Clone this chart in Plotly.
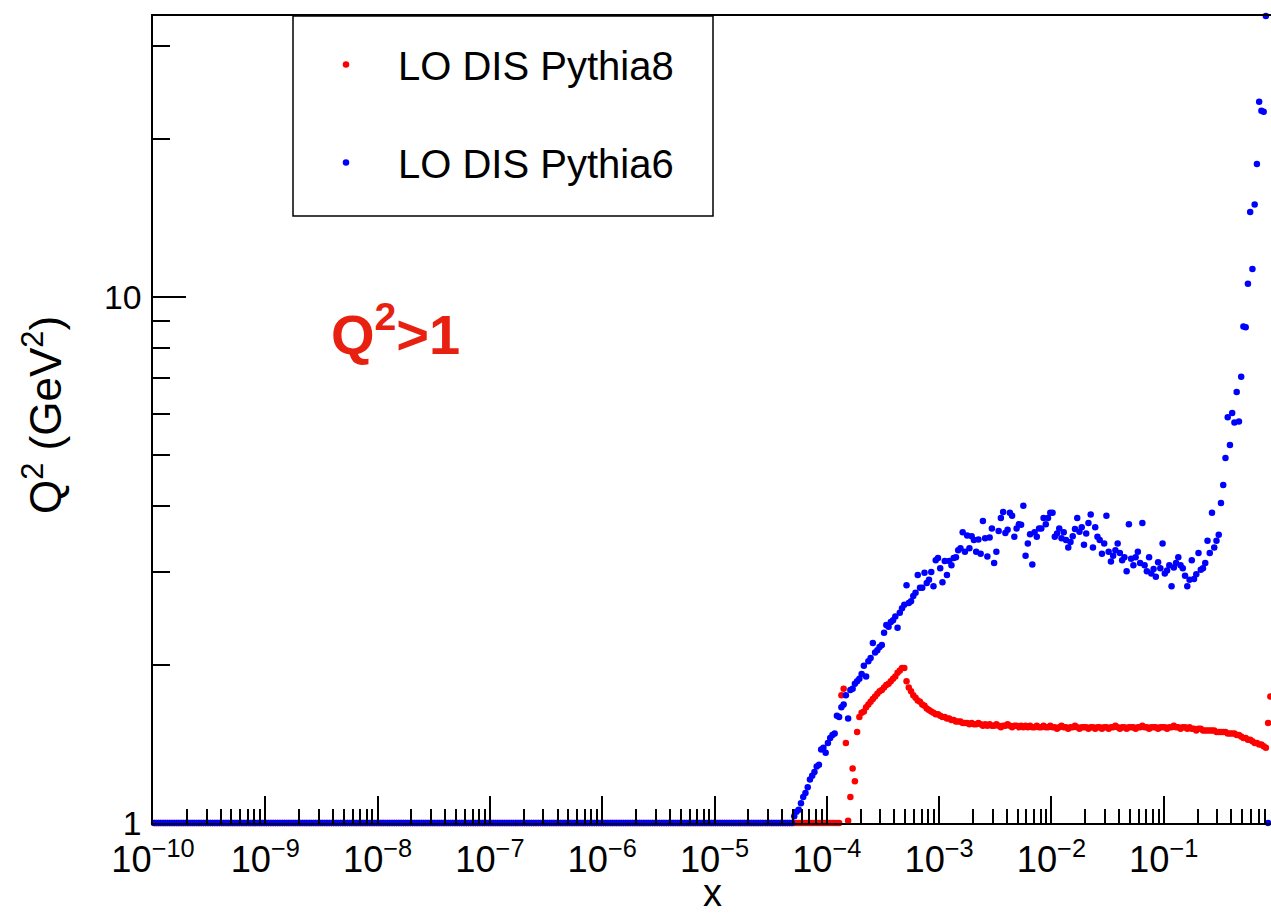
import numpy as np
import plotly.graph_objects as go

# ---------------- data ----------------
# TProfile-like binning: 50 log bins per decade from 1e-10 to 1
BINS_PER_DECADE = 50
LOG_X_MIN = -10
N_BINS = 500
bin_centres = 10 ** (LOG_X_MIN + (np.arange(N_BINS) + 0.5) / BINS_PER_DECADE)

# Pythia8: empty bins (drawn on the axis floor, Q^2 = 1) up to bin 305
p8_empty_bins = 306
p8_q2_filled = [
    1.75, 1.80, 1.42, 1.01, 1.12, 1.27, 1.20, 1.49, 1.59, 1.62,
    1.63, 1.66, 1.68, 1.70, 1.72, 1.74, 1.76, 1.78, 1.79, 1.81,
    1.83, 1.84, 1.86, 1.88, 1.90, 1.93, 1.95, 1.97, 1.97, 1.86,
    1.81, 1.78, 1.75, 1.73, 1.71, 1.70, 1.68, 1.67, 1.65, 1.64,
    1.63, 1.62, 1.61, 1.61, 1.60, 1.59, 1.59, 1.58, 1.58, 1.57,
    1.57, 1.56, 1.56, 1.56, 1.55, 1.55, 1.55, 1.54, 1.55, 1.54,
    1.54, 1.55, 1.54, 1.53, 1.54, 1.53, 1.54, 1.53, 1.53, 1.54,
    1.53, 1.52, 1.53, 1.53, 1.54, 1.53, 1.52, 1.53, 1.53, 1.52,
    1.53, 1.52, 1.53, 1.52, 1.53, 1.52, 1.52, 1.53, 1.52, 1.52,
    1.53, 1.52, 1.52, 1.53, 1.52, 1.52, 1.51, 1.52, 1.53, 1.52,
    1.52, 1.51, 1.52, 1.52, 1.53, 1.52, 1.51, 1.52, 1.52, 1.52,
    1.51, 1.52, 1.52, 1.51, 1.52, 1.52, 1.51, 1.52, 1.52, 1.51,
    1.52, 1.52, 1.53, 1.52, 1.51, 1.52, 1.52, 1.51, 1.52, 1.52,
    1.52, 1.51, 1.52, 1.52, 1.53, 1.52, 1.52, 1.51, 1.52, 1.52,
    1.52, 1.51, 1.52, 1.52, 1.52, 1.51, 1.52, 1.52, 1.53, 1.52,
    1.52, 1.51, 1.52, 1.52, 1.51, 1.52, 1.51, 1.51, 1.50, 1.51,
    1.51, 1.50, 1.50, 1.50, 1.50, 1.50, 1.50, 1.49, 1.49, 1.49,
    1.49, 1.49, 1.48, 1.48, 1.48, 1.48, 1.47, 1.47, 1.46, 1.45,
    1.45, 1.44, 1.44, 1.43, 1.42, 1.42, 1.41, 1.41, 1.40, 1.39,
    1.55, 1.74, 2.24,
]

# Pythia6: empty bins up to bin 284
p6_empty_bins = 285
p6_q2_filled = [
    1.03, 1.05, 1.06, 1.09, 1.12, 1.14, 1.17, 1.21, 1.23, 1.25,
    1.28, 1.29, 1.38, 1.39, 1.36, 1.42, 1.45, 1.47, 1.48, 1.60,
    1.59, 1.66, 1.68, 1.75, 1.58, 1.79, 1.80, 1.84, 1.86, 1.88,
    1.92, 1.99, 1.90, 2.03, 2.06, 2.20, 2.11, 2.13, 2.16, 2.18,
    2.30, 2.38, 2.36, 2.41, 2.43, 2.47, 2.35,
    2.51, 2.56, 2.60, 2.83, 2.62, 2.64, 2.70, 2.74, 2.96, 2.80,
    2.80, 2.99, 2.86, 2.90, 3.00, 2.82, 3.16, 3.19, 3.05, 2.87,
    3.15, 2.96, 3.15, 3.09, 3.19, 3.20, 3.30, 3.33, 3.57, 3.28,
    3.52, 3.33, 3.51, 3.45, 3.28, 3.46, 3.25, 3.75, 3.48, 3.21,
    3.49, 3.63, 3.12, 3.28, 3.59, 3.80, 3.90, 3.56, 3.61, 3.89,
    3.84, 3.50, 3.63, 3.70, 3.69, 4.01, 3.22, 3.40, 3.54, 3.10,
    3.57, 3.50, 3.63, 3.63, 3.80, 3.70, 3.80, 3.89,
    3.89, 3.50, 3.55, 3.63, 3.48, 3.57, 3.45, 3.34, 3.42, 3.51,
    3.62, 3.80, 3.58, 3.65, 3.38, 3.55, 3.72, 3.86, 3.34, 3.65,
    3.50, 3.45, 3.25, 3.40, 3.84, 3.28, 3.14, 3.22, 3.30, 3.40,
    3.26, 3.16, 3.20, 3.01, 3.70, 3.18, 3.09, 3.20, 3.28, 3.12,
    3.72, 3.09, 3.01, 3.20, 2.98, 3.04, 2.94, 3.13, 3.05, 3.40,
    2.98, 3.02, 3.09, 2.82, 3.06, 3.12, 3.20, 3.09, 3.05, 2.95,
    2.82, 2.90, 3.16, 2.91, 2.97, 3.26, 3.03, 3.05, 3.12, 3.44,
    3.26, 3.89, 3.34, 3.44, 3.53, 4.06, 4.39, 4.94, 5.91, 5.23,
    6.02, 5.77, 6.60, 5.80, 7.05, 8.79, 8.76, 10.6, 14.5, 11.3,
    15.0, 17.9, 23.5, 22.6, 22.5, 34.2, 1.0,
]

p8_q2 = [1.0] * p8_empty_bins + p8_q2_filled
p6_q2 = [1.0] * p6_empty_bins + p6_q2_filled
p8_x = bin_centres[:len(p8_q2)]
p6_x = bin_centres[:len(p6_q2)]

series_names = ["LO DIS Pythia8", "LO DIS Pythia6"]

# ---------------- figure ----------------
FONT = "Liberation Sans, Arial, Helvetica, sans-serif"
W, H = 1271, 916
ML, MR, MT, MB = 153, 0, 16, 93
PW = W - ML - MR
PH = H - MT - MB


def px_to_paper_x(px):
    return (px - ML) / PW


def py_to_paper_y(py):
    return (H - MB - py) / PH


fig = go.Figure()
fig.add_trace(go.Scatter(
    x=p8_x, y=p8_q2, mode="markers", name=series_names[0],
    marker=dict(color="#ff0000", size=6.5, line=dict(width=0)),
    cliponaxis=False, legendgroup="p8",
))
fig.add_trace(go.Scatter(
    x=p6_x, y=p6_q2, mode="markers", name=series_names[1],
    marker=dict(color="#0000ff", size=6.5, line=dict(width=0)),
    cliponaxis=False, legendgroup="p6",
))

axis_common = dict(
    type="log", showline=True, linecolor="black", linewidth=2,
    ticks="inside", tickcolor="black", tickwidth=1.5,
    showgrid=False, zeroline=False,
    dtick=1, tick0=0, exponentformat="power",
)

fig.update_layout(
    width=W, height=H,
    margin=dict(l=ML, r=MR, t=MT, b=MB, pad=0),
    paper_bgcolor="white", plot_bgcolor="white",
    font=dict(family=FONT, color="black"),
    xaxis=dict(
        range=[-10, LOG_X_MIN + (W - MR - ML) / 112.3],
        mirror=True, ticklen=27,
        tickfont=dict(family=FONT, size=29, color="black"),
        ticklabelstandoff=5,
        minor=dict(ticks="inside", ticklen=14, tickwidth=1.5, tickcolor="black", showgrid=False),
        **axis_common,
    ),
    yaxis=dict(
        range=[0, (H - MB - MT) / 526.0],
        mirror=False, ticklen=33,
        tickfont=dict(family=FONT, size=27, color="black"),
        ticklabelstandoff=4,
        minor=dict(ticks="inside", ticklen=17, tickwidth=1.5, tickcolor="black", showgrid=False),
        **axis_common,
    ),
    showlegend=True,
    legend=dict(
        x=px_to_paper_x(294), y=py_to_paper_y(32), xanchor="left", yanchor="top",
        bgcolor="rgba(0,0,0,0)", borderwidth=0,
        font=dict(family=FONT, size=40, color="black"),
        itemwidth=94, tracegroupgap=43, traceorder="grouped",
    ),
    shapes=[dict(
        type="rect", xref="paper", yref="paper",
        x0=px_to_paper_x(293), x1=px_to_paper_x(713),
        y0=py_to_paper_y(216), y1=py_to_paper_y(16),
        line=dict(color="black", width=1.5), fillcolor="white", layer="below",
    )],
    annotations=[
        dict(text="<b>Q<sup>2</sup>>1</b>", xref="paper", yref="paper",
             x=px_to_paper_x(395), y=py_to_paper_y(330), xanchor="center", yanchor="middle",
             showarrow=False, font=dict(family=FONT, size=56, color="#e8200f")),
        dict(text="Q<sup>2</sup> (GeV<sup>2</sup>)", xref="paper", yref="paper",
             x=px_to_paper_x(42), y=py_to_paper_y(415), xanchor="center", yanchor="middle",
             textangle=-90, showarrow=False, font=dict(family=FONT, size=44, color="black")),
        dict(text="x", xref="paper", yref="paper",
             x=px_to_paper_x(712), y=py_to_paper_y(893), xanchor="center", yanchor="middle",
             showarrow=False, font=dict(family=FONT, size=38, color="black")),
    ],
)

fig.write_html("out.html")
